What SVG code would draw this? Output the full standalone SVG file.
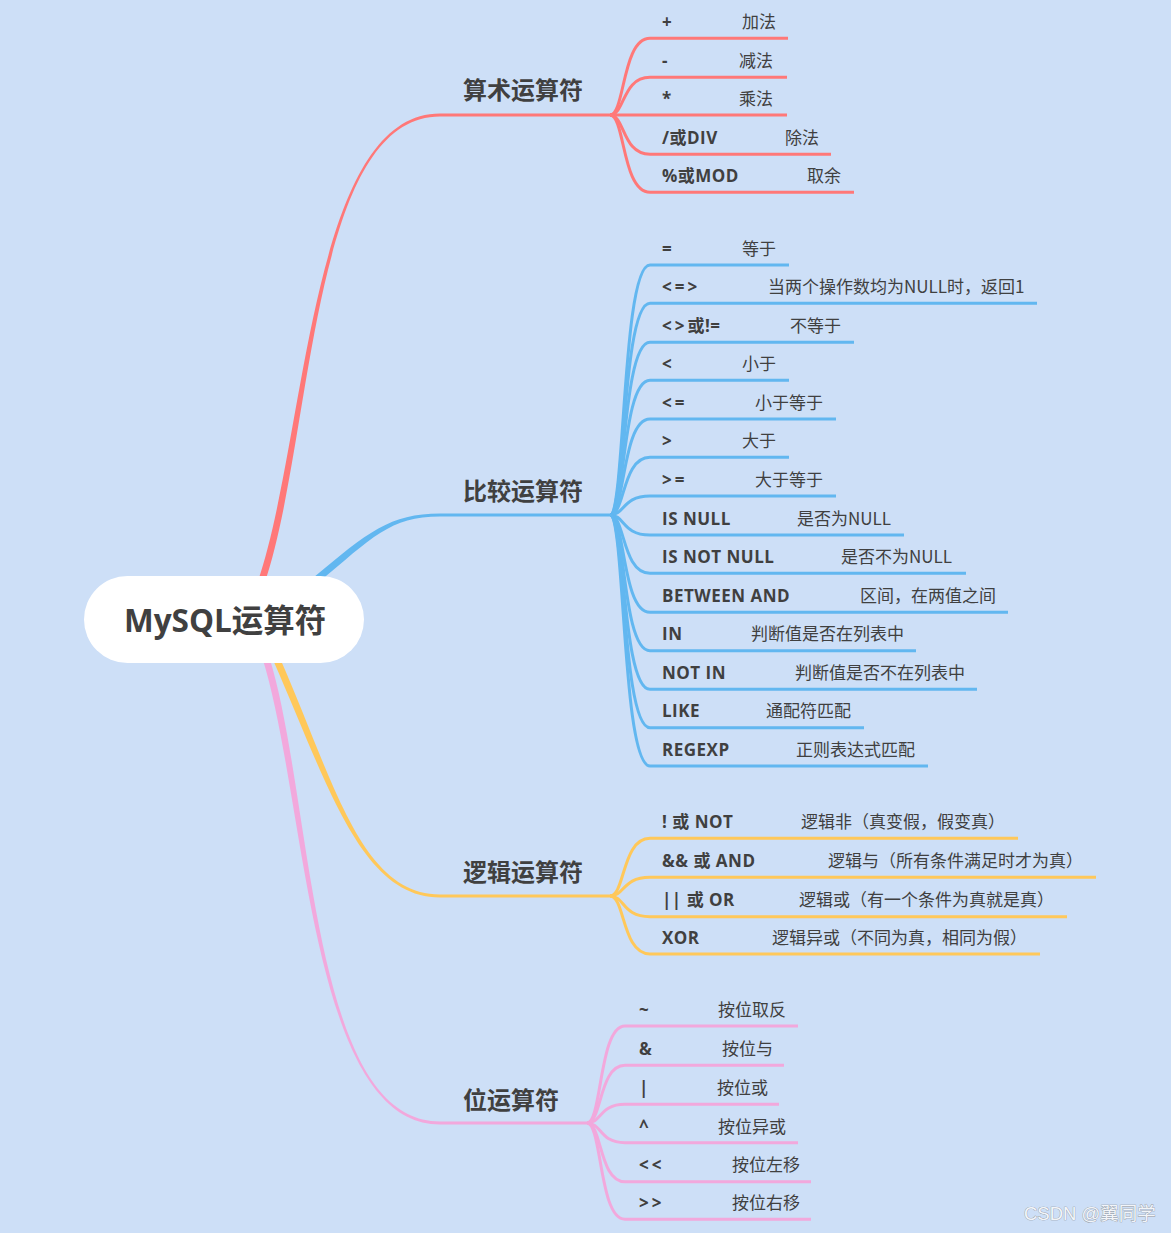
<svg xmlns="http://www.w3.org/2000/svg" width="1171" height="1233" viewBox="0 0 1171 1233">
<style>
text{font-family:"Open Sans","Noto Sans CJK SC",sans-serif;fill:#404040}
.root{font-size:31.5px;font-weight:700}
.main{font-size:24px;font-weight:700;font-family:"Noto Sans CJK SC",sans-serif}
.lab{font-size:17px;font-weight:700;letter-spacing:0.5px}
.sym{letter-spacing:3px}
.desc{font-size:17px;font-weight:400;font-family:"Noto Sans CJK SC",sans-serif}
.c{fill:none;stroke-width:3;stroke-linecap:butt}
.red{stroke:#ff7878}.blue{stroke:#62b7f0}.yel{stroke:#ffc85a}.pink{stroke:#f2a8dc}
.wm{font-family:"Liberation Sans","Noto Sans CJK SC",sans-serif;font-size:18.5px;fill:#f2f5f9;stroke:#8c9096;stroke-width:0.7;paint-order:stroke}
</style>
<rect width="1171" height="1233" fill="#cddff7"/>

<g id="connectors">
  <path fill="#ff7878" d="M257.7,581.9 C306.7,438.9 310,113.5 440,113.5 L610,113.5 L610,116.5 L440,116.5 C310,116.5 313.3,441.1 264.3,584.1 Z"/>
  <path fill="#62b7f0" d="M313.8,577.3 C367.8,532.3 390,513.5 440,513.5 L610,513.5 L610,516.5 L440,516.5 C390,516.5 372.2,537.7 318.2,582.7 Z"/>
  <path fill="#ffc85a" d="M272.8,659.4 C326.8,781.4 360,897.5 440,897.5 L610,897.5 L610,894.5 L440,894.5 C360,894.5 333.2,778.6 279.2,656.6 Z"/>
  <path fill="#f2a8dc" d="M262.7,659 C306.7,801 310,1124.5 440,1124.5 L587,1124.5 L587,1121.5 L440,1121.5 C310,1121.5 313.3,799 269.3,657 Z"/>

  <g class="c red">
    <path d="M610,115 C625,115 622,38.3 650,38.3 L788,38.3"/>
    <path d="M610,115 C625,115 622,77.3 650,77.3 L787,77.3"/>
    <path d="M610,115 L787,115"/>
    <path d="M610,115 C625,115 622,154.3 650,154.3 L831,154.3"/>
    <path d="M610,115 C625,115 622,192.3 650,192.3 L854,192.3"/>
  </g>
  <g class="c blue">
    <path d="M610,515 C625,515 622,265 650,265 L789,265"/>
    <path d="M610,515 C625,515 622,303.3 650,303.3 L1037,303.3"/>
    <path d="M610,515 C625,515 622,342.3 650,342.3 L854,342.3"/>
    <path d="M610,515 C625,515 622,380.3 650,380.3 L789,380.3"/>
    <path d="M610,515 C625,515 622,419 650,419 L836,419"/>
    <path d="M610,515 C625,515 622,457.3 650,457.3 L789,457.3"/>
    <path d="M610,515 C625,515 622,496 650,496 L836,496"/>
    <path d="M610,515 C625,515 622,535 650,535 L904,535"/>
    <path d="M610,515 C625,515 622,573.3 650,573.3 L966,573.3"/>
    <path d="M610,515 C625,515 622,612.3 650,612.3 L1008,612.3"/>
    <path d="M610,515 C625,515 622,650.7 650,650.7 L916,650.7"/>
    <path d="M610,515 C625,515 622,689.3 650,689.3 L977,689.3"/>
    <path d="M610,515 C625,515 622,727.7 650,727.7 L864,727.7"/>
    <path d="M610,515 C625,515 622,766 650,766 L928,766"/>
  </g>
  <g class="c yel">
    <path d="M610,896 C625,896 622,838.3 650,838.3 L1018,838.3"/>
    <path d="M610,896 C625,896 622,877.3 650,877.3 L1096,877.3"/>
    <path d="M610,896 C625,896 622,916.7 650,916.7 L1067,916.7"/>
    <path d="M610,896 C625,896 622,954 650,954 L1040,954"/>
  </g>
  <g class="c pink">
    <path d="M587,1123 C602,1123 599,1026 625,1026 L798,1026"/>
    <path d="M587,1123 C602,1123 599,1065.3 625,1065.3 L784,1065.3"/>
    <path d="M587,1123 C602,1123 599,1104.3 625,1104.3 L779,1104.3"/>
    <path d="M587,1123 C602,1123 599,1142.7 625,1142.7 L798,1142.7"/>
    <path d="M587,1123 C602,1123 599,1181.7 625,1181.7 L811,1181.7"/>
    <path d="M587,1123 C602,1123 599,1219.3 625,1219.3 L811,1219.3"/>
  </g>
</g>

<g id="root">
  <rect x="84" y="576" width="280" height="87" rx="43.5" fill="#ffffff"/>
  <text class="root" x="124" y="632">MySQL运算符</text>
</g>

<g id="arith">
  <text class="main" x="463" y="99">算术运算符</text>
  <g id="arith-items">
    <text class="lab" x="662" y="28">+</text><text class="desc" x="742" y="28">加法</text>
    <text class="lab" x="662" y="67">-</text><text class="desc" x="739" y="67">减法</text>
    <text class="lab" x="662" y="105">*</text><text class="desc" x="739" y="105">乘法</text>
    <text class="lab" x="662" y="144">/或DIV</text><text class="desc" x="785" y="144">除法</text>
    <text class="lab" x="662" y="182">%或MOD</text><text class="desc" x="807" y="182">取余</text>
  </g>
</g>

<g id="compare">
  <text class="main" x="463" y="500">比较运算符</text>
  <g id="compare-items">
    <text class="lab" x="662" y="255">=</text><text class="desc" x="742" y="255">等于</text>
    <text class="lab sym" x="662" y="293">&lt;=&gt;</text><text class="desc" x="768" y="293">当两个操作数均为NULL时，返回1</text>
    <text class="lab" x="662" y="332"><tspan class="sym">&lt;&gt;</tspan>或!=</text><text class="desc" x="790" y="332">不等于</text>
    <text class="lab" x="662" y="370">&lt;</text><text class="desc" x="742" y="370">小于</text>
    <text class="lab sym" x="662" y="409">&lt;=</text><text class="desc" x="755" y="409">小于等于</text>
    <text class="lab" x="662" y="447">&gt;</text><text class="desc" x="742" y="447">大于</text>
    <text class="lab sym" x="662" y="486">&gt;=</text><text class="desc" x="755" y="486">大于等于</text>
    <text class="lab" x="662" y="525">IS NULL</text><text class="desc" x="797" y="525">是否为NULL</text>
    <text class="lab" x="662" y="563">IS NOT NULL</text><text class="desc" x="841" y="563">是否不为NULL</text>
    <text class="lab" x="662" y="602">BETWEEN AND</text><text class="desc" x="860" y="602">区间，在两值之间</text>
    <text class="lab" x="662" y="640">IN</text><text class="desc" x="751" y="640">判断值是否在列表中</text>
    <text class="lab" x="662" y="679">NOT IN</text><text class="desc" x="795" y="679">判断值是否不在列表中</text>
    <text class="lab" x="662" y="717">LIKE</text><text class="desc" x="766" y="717">通配符匹配</text>
    <text class="lab" x="662" y="756">REGEXP</text><text class="desc" x="796" y="756">正则表达式匹配</text>
  </g>
</g>

<g id="logic">
  <text class="main" x="463" y="881">逻辑运算符</text>
  <g id="logic-items">
    <text class="lab" x="662" y="828">! 或 NOT</text><text class="desc" x="801" y="828">逻辑非（真变假，假变真）</text>
    <text class="lab" x="662" y="867">&amp;&amp; 或 AND</text><text class="desc" x="828" y="867">逻辑与（所有条件满足时才为真）</text>
    <text class="lab" x="662" y="906">|| 或 OR</text><text class="desc" x="799" y="906">逻辑或（有一个条件为真就是真）</text>
    <text class="lab" x="662" y="944">XOR</text><text class="desc" x="772" y="944">逻辑异或（不同为真，相同为假）</text>
  </g>
</g>

<g id="bit">
  <text class="main" x="463" y="1109">位运算符</text>
  <g id="bit-items">
    <text class="lab" x="639" y="1016">~</text><text class="desc" x="718" y="1016">按位取反</text>
    <text class="lab" x="639" y="1055">&amp;</text><text class="desc" x="722" y="1055">按位与</text>
    <text class="lab" x="639" y="1094">|</text><text class="desc" x="717" y="1094">按位或</text>
    <text class="lab" x="639" y="1133">^</text><text class="desc" x="718" y="1133">按位异或</text>
    <text class="lab sym" x="639" y="1171">&lt;&lt;</text><text class="desc" x="732" y="1171">按位左移</text>
    <text class="lab sym" x="639" y="1209">&gt;&gt;</text><text class="desc" x="732" y="1209">按位右移</text>
  </g>
</g>

<text class="wm" x="1024" y="1220">CSDN @翼同学</text>
</svg>
